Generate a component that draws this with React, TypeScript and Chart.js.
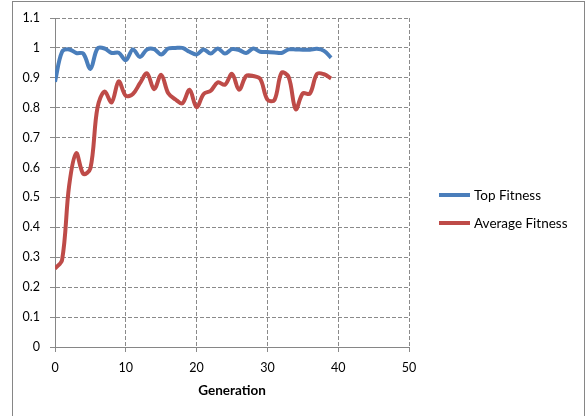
import React, { useEffect, useRef } from "react";
import { Chart, registerables } from "chart.js";

Chart.register(...registerables);

const generations = [0, 1, 2, 3, 4, 5, 6, 7, 8, 9, 10, 11, 12, 13, 14, 15, 16, 17, 18, 19, 20, 21, 22, 23, 24, 25, 26, 27, 28, 29, 30, 31, 32, 33, 34, 35, 36, 37, 38, 39];

const topFitness = [
  0.887, 0.987, 0.995, 0.983, 0.981, 0.93, 0.998, 0.998, 0.983, 0.984,
  0.959, 0.995, 0.97, 0.995, 0.996, 0.978, 0.998, 1.0, 1.0, 0.987,
  0.978, 0.995, 0.981, 0.998, 0.981, 0.996, 0.993, 0.983, 0.998, 0.987,
  0.986, 0.985, 0.983, 0.995, 0.995, 0.994, 0.994, 0.997, 0.99, 0.967,
];

const averageFitness = [
  0.262, 0.291, 0.54, 0.648, 0.579, 0.597, 0.8, 0.854, 0.818, 0.888,
  0.84, 0.846, 0.882, 0.915, 0.862, 0.91, 0.848, 0.828, 0.815, 0.86,
  0.802, 0.846, 0.857, 0.885, 0.877, 0.913, 0.86, 0.906, 0.906, 0.896,
  0.827, 0.826, 0.917, 0.903, 0.795, 0.848, 0.847, 0.913, 0.912, 0.898,
];

const seriesNames = ["Top Fitness", "Average Fitness"];
const seriesColors = ["#4A7EBB", "#BE4B48"];
const xTitle = "Generation";

const FONT = "Lato, 'Liberation Sans', sans-serif";
const GRID = "#8a8a8a";

const framePlugin = {
  id: "frame",
  beforeDraw(chart: any) {
    const ctx = chart.ctx;
    ctx.save();
    ctx.fillStyle = "#ffffff";
    ctx.fillRect(0, 0, chart.width, chart.height);
    ctx.strokeStyle = "#868686";
    ctx.lineWidth = 1;
    ctx.strokeRect(12.5, 1.5, 572, 430);
    ctx.restore();
  },
};

const legendPlugin = {
  id: "sideLegend",
  afterDraw(chart: any) {
    const ctx = chart.ctx;
    ctx.save();
    const ys = [195, 223];
    chart.data.datasets.forEach((ds: any, i: number) => {
      ctx.strokeStyle = ds.borderColor;
      ctx.lineWidth = 4;
      ctx.lineCap = "butt";
      ctx.beginPath();
      ctx.moveTo(439, ys[i]);
      ctx.lineTo(470, ys[i]);
      ctx.stroke();
      ctx.fillStyle = "#000";
      ctx.font = `13.5px ${FONT}`;
      ctx.textBaseline = "middle";
      ctx.textAlign = "left";
      ctx.fillText(ds.label, 474, ys[i] + 1);
    });
    ctx.restore();
  },
};

export default function App() {
  const ref = useRef<HTMLCanvasElement>(null);
  useEffect(() => {
    if (!ref.current) return;
    const chart = new Chart(ref.current, {
      type: "line",
      data: {
        datasets: [
          {
            label: seriesNames[0],
            data: topFitness.map((v, i) => ({ x: generations[i], y: v })),
            borderColor: seriesColors[0],
            backgroundColor: seriesColors[0],
            borderWidth: 4,
            pointRadius: 0,
            tension: 0.35,
            fill: false,
          },
          {
            label: seriesNames[1],
            data: averageFitness.map((v, i) => ({ x: generations[i], y: v })),
            borderColor: seriesColors[1],
            backgroundColor: seriesColors[1],
            borderWidth: 4,
            pointRadius: 0,
            tension: 0.35,
            fill: false,
          },
        ],
      },
      options: {
        responsive: false,
        animation: false,
        layout: { padding: { left: 0, top: 18, right: 177, bottom: 0 } },
        plugins: {
          legend: { display: false },
          tooltip: { enabled: false },
        },
        scales: {
          x: {
            type: "linear",
            min: 0,
            max: 50,
            ticks: { stepSize: 10, color: "#000", font: { family: FONT, size: 12.5 }, padding: 8.5, maxRotation: 0 },
            grid: { color: GRID, tickLength: 5, tickColor: GRID, tickBorderDash: [] } as any,
            border: { color: "#868686", width: 1, dash: [4, 2] },
            title: {
              display: true,
              text: xTitle,
              color: "#000",
              font: { family: FONT, size: 13.5, weight: "bold" },
              padding: { top: 0, bottom: 17 },
            },
            afterFit(scale: any) {
              scale.height = 69;
            },
          },
          y: {
            type: "linear",
            min: 0,
            max: 1.1,
            ticks: {
              stepSize: 0.1,
              color: "#000",
              font: { family: FONT, size: 12.5 },
              padding: 10,
              callback: (v: any) => String(Math.round(Number(v) * 10) / 10),
            },
            grid: { color: GRID, tickLength: 5, tickColor: GRID, tickBorderDash: [] } as any,
            border: { color: "#868686", width: 1, dash: [4, 2] },
            afterFit(scale: any) {
              scale.width = 55;
            },
          },
        },
      },
      plugins: [framePlugin, legendPlugin],
    });
    return () => chart.destroy();
  }, []);
  return (
    <div style={{ position: "absolute", left: 0, top: 0, width: 586, height: 416, background: "#fff" }}>
      <canvas ref={ref} width={586} height={416} style={{ width: 586, height: 416, display: "block" }} />
    </div>
  );
}
